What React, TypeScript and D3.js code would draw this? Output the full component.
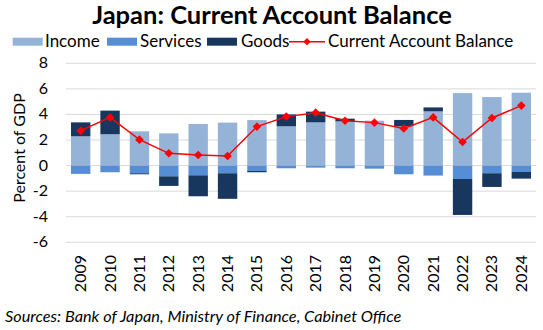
import React from "react";
import * as d3 from "d3";

const years = ["2009","2010","2011","2012","2013","2014","2015","2016","2017","2018","2019","2020","2021","2022","2023","2024"];
const income = [2.29, 2.45, 2.68, 2.52, 3.25, 3.36, 3.56, 3.07, 3.38, 3.46, 3.51, 3.07, 4.24, 5.67, 5.36, 5.7];
const services = [-0.65, -0.52, -0.6, -0.84, -0.76, -0.6, -0.42, -0.21, -0.16, -0.21, -0.24, -0.68, -0.78, -1.05, -0.6, -0.5];
const goods = [1.09, 1.85, -0.08, -0.75, -1.64, -2.0, -0.1, 0.93, 0.84, 0.21, 0, 0.5, 0.31, -2.81, -1.07, -0.52];
const currentAccount = [2.73, 3.77, 2.03, 0.96, 0.83, 0.75, 3.05, 3.83, 4.14, 3.51, 3.36, 2.91, 3.77, 1.84, 3.72, 4.69];
const yTicks = [-6, -4, -2, 0, 2, 4, 6, 8];

const seriesNames = ["Income", "Services", "Goods"];
const colors: Record<string, string> = { Income: "#95B3D7", Services: "#558ED5", Goods: "#17375E" };
const FONT = "Lato, 'Open Sans', sans-serif";

export default function App() {
  const W = 543, H = 330;
  const x = d3.scaleBand<string>().domain(years).range([66, 536]).paddingInner(0.34).paddingOuter(0.17);
  const y = d3.scaleLinear().domain([-6, 8]).range([242.3, 63.3]);

  const rows = years.map((yr, i) => ({ year: yr, Income: income[i], Services: services[i], Goods: goods[i] }));
  const stacked = d3.stack<any>().keys(seriesNames).offset(d3.stackOffsetDiverging)(rows);

  const line = d3.line<number>().x((_, i) => (x(years[i]) as number) + x.bandwidth() / 2).y((d) => y(d));
  const r = 4.3;
  const diamond = `M0,${-r}L${r},0L0,${r}L${-r},0Z`;

  return (
    <svg width={W} height={H} style={{ position: "absolute", left: 0, top: 0, background: "#fff" }} fontFamily={FONT}>
      <rect width={W} height={H} fill="#fff" />
      <text x={272} y={24} textAnchor="middle" fontSize={25.5} fontWeight="bold" fill="#000">Japan: Current Account Balance</text>

      {/* legend */}
      <g fontSize={17} fill="#000">
        <rect x={12.7} y={37.7} width={30} height={8} fill={colors.Income} />
        <text x={45} y={46.5}>Income</text>
        <rect x={107} y={37.7} width={30} height={8} fill={colors.Services} />
        <text x={140} y={46.5}>Services</text>
        <rect x={207} y={37.7} width={30} height={8} fill={colors.Goods} />
        <text x={241} y={46.5}>Goods</text>
        <line x1={289} x2={325} y1={41.7} y2={41.7} stroke="#FF0000" strokeWidth={1.5} />
        <path d={diamond} transform="translate(307,41.7) scale(0.85)" fill="#FF0000" />
        <text x={328} y={46.5}>Current Account Balance</text>
      </g>

      {/* grid */}
      {yTicks.map((t) => (
        <g key={t}>
          <line x1={66} x2={536} y1={y(t)} y2={y(t)} stroke="#D9D9D9" strokeWidth={1} />
          <text x={48} y={y(t) + 5} textAnchor="end" fontSize={16} fill="#000">{t}</text>
        </g>
      ))}

      <text transform={`translate(25,148) rotate(-90)`} textAnchor="middle" fontSize={16} fill="#000">Percent of GDP</text>

      {/* bars */}
      {stacked.map((s) => (
        <g key={s.key} fill={colors[s.key]}>
          {s.map((d, i) => {
            const y0 = y(Math.max(d[0], d[1]));
            const y1 = y(Math.min(d[0], d[1]));
            return <rect key={i} x={x(years[i])} width={x.bandwidth()} y={y0} height={Math.max(0, y1 - y0)} />;
          })}
        </g>
      ))}

      {/* line */}
      <path d={line(currentAccount) as string} fill="none" stroke="#FF0000" strokeWidth={1.5} />
      {currentAccount.map((v, i) => (
        <path key={i} d={diamond} transform={`translate(${(x(years[i]) as number) + x.bandwidth() / 2},${y(v)})`} fill="#FF0000" />
      ))}

      {/* x labels */}
      {years.map((yr) => (
        <text key={yr} transform={`translate(${(x(yr) as number) + x.bandwidth() / 2 + 5.5},255) rotate(-90)`} textAnchor="end" fontSize={16} fill="#000">{yr}</text>
      ))}

      <text x={5} y={322} fontSize={16.3} fontStyle="italic" fill="#000">Sources: Bank of Japan, Ministry of Finance, Cabinet Office</text>
    </svg>
  );
}
